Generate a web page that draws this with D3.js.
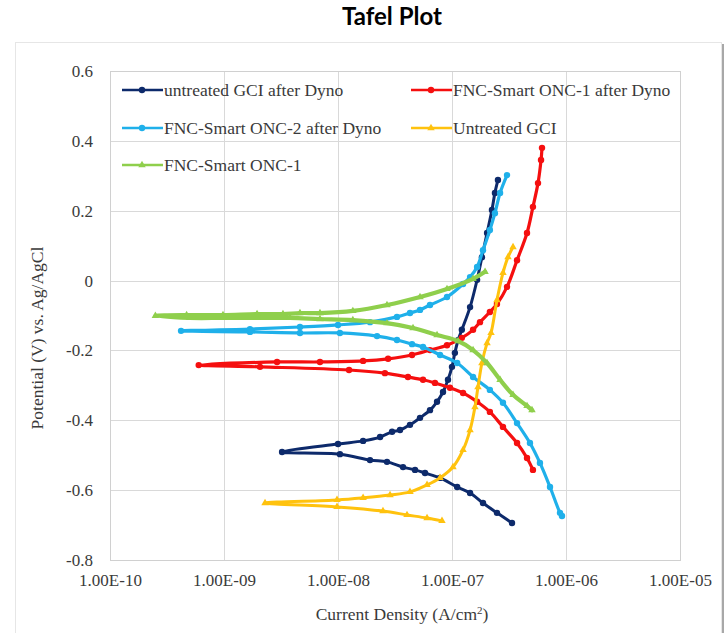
<!DOCTYPE html>
<html>
<head>
<meta charset="utf-8">
<script src="https://d3js.org/d3.v7.min.js"></script>
<style>
  html, body { margin: 0; padding: 0; background: #ffffff; }
  svg { display: block; }
</style>
</head>
<body>
<div id="chart"></div>
<script>
// ---------------- DATA (current density A/cm², potential V) ----------------
const seriesNames = [
  "untreated GCI after Dyno",
  "FNC-Smart ONC-1 after Dyno",
  "FNC-Smart ONC-2 after Dyno",
  "Untreated GCI",
  "FNC-Smart ONC-1"
];

// untreated GCI after Dyno : cathodic branch (end -> Ecorr) then anodic branch
const untreatedGciAfterDyno = [
  [3.36e-7,-0.694],[2.48e-7,-0.665],[1.87e-7,-0.637],[1.44e-7,-0.608],[1.11e-7,-0.591],
  [7.85e-8,-0.565],[5.80e-8,-0.551],[4.74e-8,-0.542],[3.72e-8,-0.534],[2.69e-8,-0.519],
  [1.91e-8,-0.514],[1.04e-8,-0.497],[3.23e-9,-0.491],
  [1.0e-8,-0.468],[1.66e-8,-0.459],[2.34e-8,-0.448],[2.98e-8,-0.433],[3.50e-8,-0.428],
  [4.28e-8,-0.413],[5.24e-8,-0.393],[6.41e-8,-0.371],[7.39e-8,-0.347],[8.34e-8,-0.319],
  [9.22e-8,-0.284],[1.0e-7,-0.247],[1.06e-7,-0.207],[1.13e-7,-0.171],[1.22e-7,-0.141],
  [1.44e-7,-0.076],[1.66e-7,0.002],[1.83e-7,0.067],[2.03e-7,0.136],[2.24e-7,0.202],
  [2.38e-7,0.251],[2.53e-7,0.288]
];

const onc1AfterDyno = [
  [5.13e-7,-0.542],[4.55e-7,-0.508],[3.72e-7,-0.465],[2.80e-7,-0.419],[2.15e-7,-0.376],
  [1.66e-7,-0.347],[1.25e-7,-0.322],[9.60e-8,-0.307],[7.09e-8,-0.293],[5.57e-8,-0.284],
  [4.11e-8,-0.276],[2.58e-8,-0.265],[1.25e-8,-0.256],[2.07e-9,-0.247],[6.0e-10,-0.242],
  [2.92e-9,-0.233],[6.95e-9,-0.233],[1.66e-8,-0.230],[2.75e-8,-0.224],[4.46e-8,-0.213],
  [6.41e-8,-0.199],[9.04e-8,-0.185],[1.22e-7,-0.164],[1.53e-7,-0.141],[1.76e-7,-0.119],
  [2.15e-7,-0.090],[2.48e-7,-0.067],[3.04e-7,-0.018],[3.72e-7,0.058],[4.55e-7,0.136],
  [5.13e-7,0.211],[5.68e-7,0.279],[6.04e-7,0.345],[6.16e-7,0.380]
];

const onc2AfterDyno = [
  [9.22e-7,-0.674],[8.86e-7,-0.665],[7.24e-7,-0.591],[5.91e-7,-0.522],[4.83e-7,-0.465],
  [3.72e-7,-0.408],[2.80e-7,-0.350],[2.15e-7,-0.313],[1.53e-7,-0.276],[1.11e-7,-0.236],
  [7.85e-8,-0.213],[5.57e-8,-0.190],[4.46e-8,-0.182],[3.29e-8,-0.170],[2.20e-8,-0.159],
  [1.04e-8,-0.150],[4.64e-9,-0.150],[1.69e-9,-0.147],[4.2e-10,-0.144],
  [1.69e-9,-0.139],[4.64e-9,-0.133],[1.0e-8,-0.127],[1.91e-8,-0.119],[3.29e-8,-0.104],
  [4.28e-8,-0.093],[5.24e-8,-0.084],[6.41e-8,-0.070],[9.04e-8,-0.047],[1.25e-7,-0.010],
  [1.44e-7,0.010],[1.66e-7,0.039],[1.87e-7,0.087],[2.15e-7,0.145],[2.38e-7,0.193],
  [2.64e-7,0.251],[3.04e-7,0.302]
];

const untreatedGci = [
  [8.17e-8,-0.688],[6.04e-8,-0.680],[4.03e-8,-0.671],[2.48e-8,-0.660],[9.80e-9,-0.648],
  [2.29e-9,-0.637],
  [9.80e-9,-0.628],[1.66e-8,-0.622],[2.86e-8,-0.614],[4.28e-8,-0.605],[6.04e-8,-0.585],
  [7.85e-8,-0.565],[1.02e-7,-0.534],[1.25e-7,-0.485],[1.44e-7,-0.428],[1.59e-7,-0.362],
  [1.69e-7,-0.305],[1.83e-7,-0.236],[2.03e-7,-0.179],[2.20e-7,-0.150],[2.48e-7,-0.056],
  [2.80e-7,0.022],[3.10e-7,0.067],[3.43e-7,0.096]
];

const onc1 = [
  [5.03e-7,-0.371],[4.55e-7,-0.359],[3.43e-7,-0.327],[2.64e-7,-0.284],[2.03e-7,-0.236],
  [1.53e-7,-0.199],[1.13e-7,-0.173],[7.39e-8,-0.156],[4.55e-8,-0.136],[2.69e-8,-0.122],
  [1.35e-8,-0.113],[6.95e-9,-0.110],[3.79e-9,-0.107],[1.95e-9,-0.107],[9.8e-10,-0.107],
  [5.0e-10,-0.107],[2.5e-10,-0.101],
  [4.7e-10,-0.099],[9.8e-10,-0.099],[1.95e-9,-0.096],[3.29e-9,-0.096],[4.64e-9,-0.093],
  [6.95e-9,-0.093],[1.35e-8,-0.087],[2.69e-8,-0.070],[5.24e-8,-0.047],[9.04e-8,-0.024],
  [1.53e-7,0.005],[1.95e-7,0.025]
];

const xTicks = [1e-10, 1e-9, 1e-8, 1e-7, 1e-6, 1e-5];
const xTickLabels = ["1.00E-10","1.00E-09","1.00E-08","1.00E-07","1.00E-06","1.00E-05"];
const yTicks = [-0.8, -0.6, -0.4, -0.2, 0, 0.2, 0.4, 0.6];
const yTickLabels = ["-0.8","-0.6","-0.4","-0.2","0","0.2","0.4","0.6"];

// ---------------- STYLE ----------------
const seriesData = [untreatedGciAfterDyno, onc1AfterDyno, onc2AfterDyno, untreatedGci, onc1];
const colors = ["#0d2a6b", "#f50f0f", "#1fb0ea", "#ffc20e", "#8fcf4c"];
const markers = ["circle", "circle", "circle", "triangle", "triangle"];
const lineWidths = [3, 3.2, 3.2, 3, 4.2];

const W = 728, H = 633;
const plot = { left: 110, right: 680, top: 71, bottom: 560 };
const serif = "'Liberation Serif', 'Times New Roman', serif";
const textColor = "#3a3a3a";

const svg = d3.select("#chart").append("svg").attr("width", W).attr("height", H);

// outer chart frame
svg.append("rect").attr("x", 15.5).attr("y", 42.5).attr("width", 706).attr("height", 600)
  .attr("fill", "#ffffff").attr("stroke", "#e6e6e6");
svg.append("line").attr("x1", 723).attr("x2", 723).attr("y1", 44).attr("y2", H)
  .attr("stroke", "#a8a8a8").attr("stroke-width", 2);

// title
svg.append("text").attr("x", 392).attr("y", 25).attr("text-anchor", "middle")
  .style("font-family", "Lato, 'Open Sans', sans-serif").style("font-weight", "bold")
  .style("font-size", "24px").attr("fill", "#000").text("Tafel Plot");

const x = d3.scaleLog().domain([1e-10, 1e-5]).range([plot.left, plot.right]);
const y = d3.scaleLinear().domain([-0.8, 0.6]).range([plot.bottom, plot.top]);

// grid
const grid = svg.append("g");
grid.selectAll("line.v").data(xTicks).join("line")
  .attr("x1", d => Math.round(x(d)) + 0.5).attr("x2", d => Math.round(x(d)) + 0.5)
  .attr("y1", plot.top).attr("y2", plot.bottom)
  .attr("stroke", "#d9d9d9").attr("stroke-width", 1);
grid.selectAll("line.h").data(yTicks).join("line")
  .attr("y1", d => Math.round(y(d)) + 0.5).attr("y2", d => Math.round(y(d)) + 0.5)
  .attr("x1", plot.left).attr("x2", plot.right)
  .attr("stroke", "#d9d9d9").attr("stroke-width", 1);
svg.append("rect").attr("x", plot.left + 0.5).attr("y", plot.top + 0.5)
  .attr("width", plot.right - plot.left).attr("height", plot.bottom - plot.top)
  .attr("fill", "none").attr("stroke", "#d0d0d0");

// axes
const xAxis = d3.axisBottom(x).tickValues(xTicks).tickSize(0).tickPadding(14)
  .tickFormat((d, i) => xTickLabels[i]);
const gx = svg.append("g").attr("transform", `translate(0,${plot.bottom})`).call(xAxis);
gx.select(".domain").remove();
gx.selectAll("text").style("font-family", serif).style("font-size", "17px").attr("fill", textColor);

const yAxis = d3.axisLeft(y).tickValues(yTicks).tickSize(0).tickPadding(17)
  .tickFormat((d, i) => yTickLabels[i]);
const gy = svg.append("g").attr("transform", `translate(${plot.left},0)`).call(yAxis);
gy.select(".domain").remove();
gy.selectAll("text").style("font-family", serif).style("font-size", "17px").attr("fill", textColor);

// axis titles
const xt = svg.append("text").attr("x", 402).attr("y", 620).attr("text-anchor", "middle")
  .style("font-family", serif).style("font-size", "17.5px").attr("fill", textColor);
xt.append("tspan").text("Current Density (A/cm");
xt.append("tspan").attr("dy", -6).style("font-size", "11px").text("2");
xt.append("tspan").attr("dy", 6).text(")");

svg.append("text").attr("transform", "translate(43,338) rotate(-90)").attr("text-anchor", "middle")
  .style("font-family", serif).style("font-size", "17.5px").attr("fill", textColor)
  .text("Potential (V) vs. Ag/AgCl");

// series
const line = d3.line().x(d => x(d[0])).y(d => y(d[1])).curve(d3.curveCatmullRom.alpha(0.5));
const tri = d3.symbol().type(d3.symbolTriangle).size(24);

function drawMarker(g, type, color, cx, cy) {
  if (type === "circle") {
    g.append("circle").attr("cx", cx).attr("cy", cy).attr("r", 3.2).attr("fill", color);
  } else {
    g.append("path").attr("d", tri()).attr("transform", `translate(${cx},${cy})`).attr("fill", color);
  }
}

const plotG = svg.append("g");
seriesData.forEach((data, i) => {
  const g = plotG.append("g");
  g.append("path").datum(data).attr("d", line).attr("fill", "none")
    .attr("stroke", colors[i]).attr("stroke-width", lineWidths[i])
    .attr("stroke-linejoin", "round").attr("stroke-linecap", "round");
  data.forEach(d => drawMarker(g, markers[i], colors[i], x(d[0]), y(d[1])));
});

// legend
const legendPos = [[122, 90], [411, 90], [122, 128], [411, 128], [122, 165]];
const lg = svg.append("g");
seriesNames.forEach((name, i) => {
  const [lx, ly] = legendPos[i];
  lg.append("line").attr("x1", lx).attr("x2", lx + 41).attr("y1", ly).attr("y2", ly)
    .attr("stroke", colors[i]).attr("stroke-width", 2.5);
  drawMarker(lg, markers[i], colors[i], lx + 20, ly);
  lg.append("text").attr("x", lx + 42).attr("y", ly + 6)
    .style("font-family", serif).style("font-size", "17.5px").attr("fill", textColor)
    .text(name);
});
</script>
</body>
</html>
